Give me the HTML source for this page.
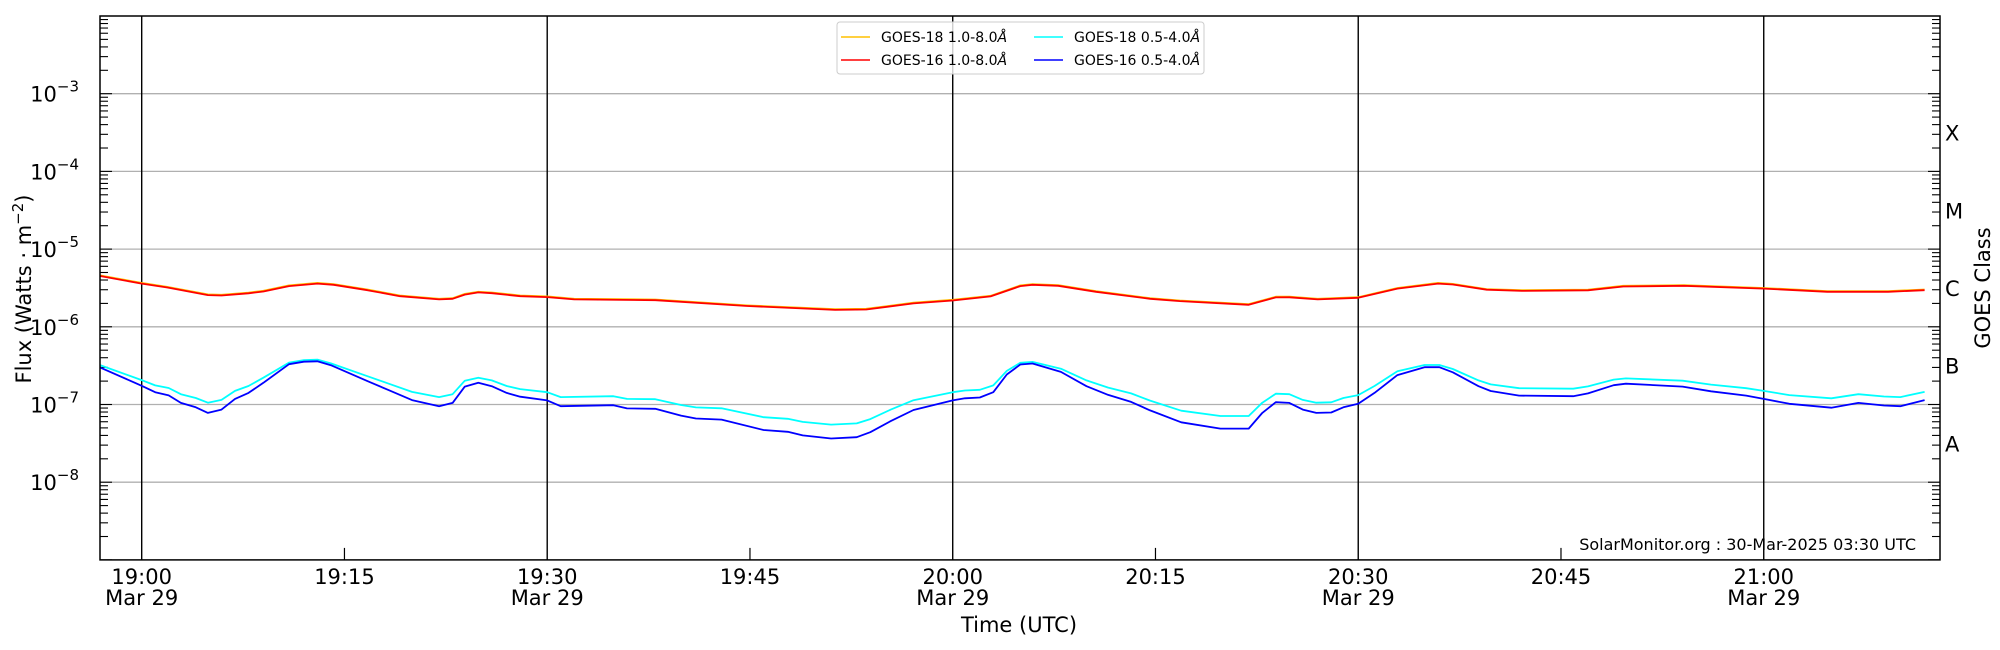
<!DOCTYPE html>
<html><head><meta charset="utf-8"><style>
html,body{margin:0;padding:0;background:#fff;}
svg{display:block;font-family:"DejaVu Sans","Liberation Sans",sans-serif;}
</style></head><body>
<svg id="s" width="2000" height="650" xmlns="http://www.w3.org/2000/svg"></svg>
<script>
const S=document.getElementById('s');
const L=100,R=1940,T=16,D=77.7,B=T+7*D;
const X=m=>141.7+m*13.517;
const Y=v=>T+(-2-Math.log10(v))*D;
let h='';
for(let e=-3;e>=-8;e--){const y=Y(Math.pow(10,e));h+=`<line x1="${L}" x2="${R}" y1="${y}" y2="${y}" stroke="#b0b0b0" stroke-width="1.3"/>`;}
for(let m=0;m<=120;m+=30){const x=X(m);h+=`<line x1="${x}" x2="${x}" y1="${T}" y2="${B}" stroke="#000" stroke-width="1.4"/>`;}
for(let m=15;m<=120;m+=30){const x=X(m);h+=`<line x1="${x}" x2="${x}" y1="${B-12}" y2="${B}" stroke="#000" stroke-width="1.2"/>`;}
for(let e=-9;e<-2;e++){for(let k=1;k<10;k++){const v=k*Math.pow(10,e);const y=Y(v);const len=k==1?12:8;
h+=`<line x1="${L}" x2="${L+len}" y1="${y}" y2="${y}" stroke="#000" stroke-width="1.1"/><line x1="${R-len}" x2="${R}" y1="${y}" y2="${y}" stroke="#000" stroke-width="1.1"/>`;}}
for(let e=-3;e>=-8;e--){const y=Y(Math.pow(10,e));h+=`<text x="79" y="${y+8}" font-size="21" text-anchor="end">10<tspan font-size="15" dy="-10">−${-e}</tspan></text>`;}
const red=[[-3.1,4.5e-6],[0,3.6e-6],[1.9,3.2e-6],[4.9,2.56e-6],[5.9,2.53e-6],[7.9,2.7e-6],[9,2.85e-6],[10.9,3.34e-6],[13,3.6e-6],[14.2,3.47e-6],[16.7,2.96e-6],[19.1,2.48e-6],[22,2.25e-6],[23,2.29e-6],[23.9,2.6e-6],[24.9,2.77e-6],[25.9,2.71e-6],[28,2.48e-6],[30,2.41e-6],[32,2.25e-6],[38,2.2e-6],[44.8,1.85e-6],[51.3,1.65e-6],[53.6,1.67e-6],[57.1,2.0e-6],[60,2.18e-6],[62.8,2.46e-6],[65,3.34e-6],[65.9,3.47e-6],[67.8,3.37e-6],[70.6,2.82e-6],[74.6,2.29e-6],[76.8,2.14e-6],[81.9,1.92e-6],[83.9,2.39e-6],[84.9,2.4e-6],[87,2.25e-6],[90,2.36e-6],[92.9,3.1e-6],[95.9,3.6e-6],[97,3.5e-6],[99.5,3.0e-6],[102.1,2.9e-6],[107,2.95e-6],[109.6,3.3e-6],[114.1,3.37e-6],[120,3.1e-6],[124.7,2.82e-6],[129.2,2.82e-6],[131.9,2.96e-6]];
const blue=[[-3.1,3.0e-7],[0,1.74e-7],[1,1.44e-7],[2,1.31e-7],[2.9,1.05e-7],[4,9.2e-8],[4.9,7.8e-8],[5.9,8.6e-8],[6.9,1.18e-7],[7.9,1.41e-7],[9,1.9e-7],[10.9,3.3e-7],[12,3.55e-7],[13,3.6e-7],[14,3.2e-7],[16.7,2.0e-7],[18.2,1.55e-7],[20,1.14e-7],[22,9.5e-8],[23,1.05e-7],[23.9,1.7e-7],[24.9,1.9e-7],[25.9,1.72e-7],[27,1.41e-7],[28,1.26e-7],[30,1.13e-7],[31,9.5e-8],[34.9,9.8e-8],[35.9,8.9e-8],[38,8.8e-8],[39.9,7.2e-8],[41,6.6e-8],[42.9,6.4e-8],[46,4.7e-8],[47.8,4.45e-8],[48.9,4.0e-8],[51,3.65e-8],[52.9,3.8e-8],[53.9,4.4e-8],[55.4,6.1e-8],[57.1,8.5e-8],[60,1.13e-7],[60.9,1.2e-7],[62,1.23e-7],[63,1.44e-7],[64,2.43e-7],[65,3.27e-7],[65.9,3.37e-7],[68,2.63e-7],[69.9,1.72e-7],[71.5,1.33e-7],[73.2,1.08e-7],[74.6,8.4e-8],[76.9,5.9e-8],[79.8,4.9e-8],[81.9,4.9e-8],[82.9,7.8e-8],[83.9,1.07e-7],[84.9,1.05e-7],[85.9,8.6e-8],[86.9,7.8e-8],[88,7.9e-8],[88.9,9.2e-8],[90,1.02e-7],[91.2,1.41e-7],[92.9,2.39e-7],[94.9,3.02e-7],[96,3.02e-7],[97,2.6e-7],[98.9,1.72e-7],[99.8,1.49e-7],[101.9,1.3e-7],[105.9,1.28e-7],[107,1.39e-7],[108.9,1.77e-7],[109.8,1.85e-7],[114,1.7e-7],[116.1,1.48e-7],[118.7,1.3e-7],[120,1.18e-7],[121.9,1.02e-7],[125,9.1e-8],[127,1.05e-7],[128.9,9.7e-8],[130.1,9.5e-8],[131.9,1.14e-7]];
const cyan=blue.map(([m,v])=>{let d=(Math.log10(3.3e-7)-Math.log10(v))/0.95;d=Math.max(0,Math.min(1,d));return [m,v*(1.05+0.46*d)];});
const pl=(arr,c,w)=>`<polyline fill="none" stroke="${c}" stroke-width="${w}" stroke-linejoin="round" points="${arr.map(([m,v])=>Math.max(L,X(m)).toFixed(1)+','+Y(v).toFixed(1)).join(' ')}"/>`;
h+=pl(red.map(([m,v])=>[m,v*1.02]),'#ffc000',1.8);
h+=pl(red,'#ff0000',1.8);
h+=pl(cyan,'#00ffff',1.8);
h+=pl(blue,'#0000ff',1.8);
h+=`<rect x="${L}" y="${T}" width="${R-L}" height="${B-T}" fill="none" stroke="#000" stroke-width="1.5"/>`;
const xl=[[0,'19:00',1],[15,'19:15',0],[30,'19:30',1],[45,'19:45',0],[60,'20:00',1],[75,'20:15',0],[90,'20:30',1],[105,'20:45',0],[120,'21:00',1]];
for(const [m,t,d] of xl){const x=X(m);h+=`<text x="${x}" y="584" font-size="21" text-anchor="middle">${t}</text>`;if(d)h+=`<text x="${x}" y="605" font-size="21" text-anchor="middle">Mar 29</text>`;}
h+=`<text x="1019" y="632" font-size="21" text-anchor="middle">Time (UTC)</text>`;
h+=`<text transform="translate(31,289) rotate(-90)" font-size="21" text-anchor="middle">Flux (Watts · m<tspan font-size="15" dy="-8">−2</tspan><tspan dy="8">)</tspan></text>`;
const cl=[['X',-3.5],['M',-4.5],['C',-5.5],['B',-6.5],['A',-7.5]];
for(const [c,l] of cl){h+=`<text x="1945" y="${Y(Math.pow(10,l))+8}" font-size="21">${c}</text>`;}
h+=`<text transform="translate(1990,288) rotate(-90)" font-size="21" text-anchor="middle">GOES Class</text>`;
h+=`<text x="1916" y="550" font-size="16" text-anchor="end">SolarMonitor.org : 30-Mar-2025 03:30 UTC</text>`;
h+=`<rect x="837" y="22" width="367" height="52" rx="3" fill="#fff" fill-opacity="0.8" stroke="#ccc" stroke-width="1"/>`;
const lg=[[841,37,'#ffc000','GOES-18 1.0-8.0'],[841,60,'#ff0000','GOES-16 1.0-8.0'],[1034,37,'#00ffff','GOES-18 0.5-4.0'],[1034,60,'#0000ff','GOES-16 0.5-4.0']];
for(const [x,y,c,t] of lg){h+=`<line x1="${x}" x2="${x+29}" y1="${y}" y2="${y}" stroke="${c}" stroke-width="1.6"/><text x="${x+40}" y="${y+5}" font-size="14">${t}<tspan font-style="italic">Å</tspan></text>`;}
S.innerHTML=h;
</script>
</body></html>
